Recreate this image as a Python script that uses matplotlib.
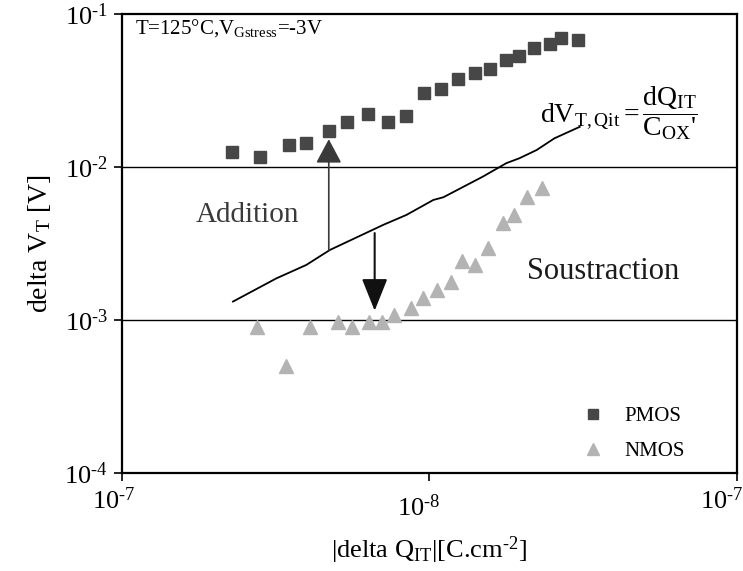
import numpy as np
import matplotlib
matplotlib.use("Agg")
import matplotlib.pyplot as plt

plt.rcParams["font.family"] = ["Liberation Serif", "DejaVu Serif"]
plt.rcParams["mathtext.fontset"] = "custom"
plt.rcParams["mathtext.rm"] = "Liberation Serif"
plt.rcParams["mathtext.it"] = "Liberation Serif:italic"
plt.rcParams["mathtext.bf"] = "Liberation Serif:bold"

# --- data ---
pmos_q = [2.28e-9, 2.81e-9, 3.49e-9, 3.98e-9, 4.71e-9, 5.40e-9, 6.31e-9, 7.33e-9,
          8.38e-9, 9.64e-9, 1.09e-8, 1.24e-8, 1.41e-8, 1.57e-8, 1.78e-8, 1.95e-8,
          2.18e-8, 2.46e-8, 2.67e-8, 3.05e-8]
pmos_vt = [1.26e-2, 1.16e-2, 1.39e-2, 1.43e-2, 1.73e-2, 1.96e-2, 2.21e-2, 1.96e-2,
           2.15e-2, 3.03e-2, 3.24e-2, 3.76e-2, 4.13e-2, 4.39e-2, 4.98e-2, 5.31e-2,
           5.97e-2, 6.37e-2, 6.97e-2, 6.79e-2]

nmos_q = [2.75e-9, 3.41e-9, 4.09e-9, 5.05e-9, 5.62e-9, 6.35e-9, 7.04e-9, 7.70e-9,
          8.71e-9, 9.53e-9, 1.06e-8, 1.18e-8, 1.28e-8, 1.41e-8, 1.55e-8, 1.73e-8,
          1.88e-8, 2.07e-8, 2.33e-8]
nmos_vt = [8.95e-4, 5.0e-4, 8.95e-4, 9.75e-4, 8.95e-4, 9.75e-4, 9.75e-4, 1.08e-3,
           1.19e-3, 1.39e-3, 1.57e-3, 1.78e-3, 2.43e-3, 2.29e-3, 2.94e-3, 4.29e-3,
           4.86e-3, 6.40e-3, 7.26e-3]

# dV = dQit / Cox' curve
calc_q = [2.30e-9, 3.18e-9, 3.98e-9, 4.75e-9, 7.07e-9, 8.42e-9, 1.03e-8, 1.11e-8,
          1.49e-8, 1.78e-8, 1.96e-8, 2.23e-8, 2.55e-8, 3.08e-8]
calc_vt = [1.32e-3, 1.87e-3, 2.29e-3, 2.87e-3, 4.18e-3, 4.86e-3, 6.09e-3, 6.34e-3,
           8.64e-3, 1.06e-2, 1.14e-2, 1.29e-2, 1.54e-2, 1.83e-2]

x_ticks = [1e-9, 1e-8, 1e-7]
x_tick_labels = [r"$10^{\text{-}7}$", r"$10^{\text{-}8}$", r"$10^{\text{-}7}$"]
y_ticks = [1e-4, 1e-3, 1e-2, 1e-1]
y_tick_labels = [r"$10^{\text{-}4}$", r"$10^{\text{-}3}$", r"$10^{\text{-}2}$", r"$10^{\text{-}1}$"]

fig = plt.figure(figsize=(7.43, 5.71), dpi=100)
ax = fig.add_axes([0.1638, 0.1716, 0.8282, 0.8039])
ax.set_xscale("log")
ax.set_yscale("log")
ax.set_xlim(1e-9, 1e-7)
ax.set_ylim(1e-4, 1e-1)

# horizontal grid lines at the inner decades
for yv in y_ticks[1:3]:
    ax.axhline(yv, color="black", lw=1.0, zorder=1)

ax.plot(pmos_q, pmos_vt, ls="none", marker="s", ms=8.5, color="#474747",
        mec="#474747", label="PMOS", zorder=3)
ax.plot(nmos_q, nmos_vt, ls="none", marker="^", ms=10, color="#b3b3b3",
        mec="#b3b3b3", label="NMOS", zorder=3)
ax.plot(calc_q, calc_vt, color="black", lw=1.3, zorder=2)

# arrows
ax.annotate("", xy=(4.71e-9, 1.52e-2), xytext=(4.71e-9, 2.87e-3),
            arrowprops=dict(arrowstyle="-|>,head_length=0.75,head_width=0.4",
                            color="#3a3a3a", lw=1.2, mutation_scale=20,
                            shrinkA=0, shrinkB=0), zorder=4)
ax.annotate("", xy=(6.64e-9, 1.15e-3), xytext=(6.64e-9, 3.7e-3),
            arrowprops=dict(arrowstyle="-|>,head_length=1.0,head_width=0.4",
                            color="#111111", lw=1.5, mutation_scale=20,
                            shrinkA=0, shrinkB=0), zorder=4)

ax.text(0.022, 0.969, r"T=125°C,V$_{\mathrm{Gstress}}$=-3V", transform=ax.transAxes,
        fontsize=15, va="center", ha="left")
ax.text(0.205, 0.562, "Addition", transform=ax.transAxes, fontsize=21,
        color="#3a3a3a", ha="center", va="center")
ax.text(0.782, 0.44, "Soustraction", transform=ax.transAxes, fontsize=22,
        color="#1a1a1a", ha="center", va="center")
ax.text(0.68, 0.784,
        r"$\mathrm{dV_{T,Qit}}=\dfrac{\mathrm{dQ_{IT}}}{\mathrm{C_{OX}}\text{'}}$",
        transform=ax.transAxes, fontsize=20, ha="left", va="center")

ax.set_xticks(x_ticks)
ax.set_xticklabels([])
ax.xaxis.set_minor_locator(matplotlib.ticker.NullLocator())
# tick labels drawn by hand: the middle one sits lower, the right one is pulled in
for xv, lab, dx, dy in zip(x_ticks, x_tick_labels, [-0.013, -0.017, -0.025],
                           [-0.06, -0.075, -0.06]):
    fx = np.log10(xv / 1e-9) / 2.0 + dx
    ax.text(fx, dy, lab, transform=ax.transAxes, fontsize=19,
            ha="center", va="center")
ax.set_yticks(y_ticks)
ax.set_yticklabels(y_tick_labels, fontsize=19)
ax.yaxis.set_minor_locator(matplotlib.ticker.NullLocator())
ax.tick_params(axis="both", direction="out", length=6, width=1.2, pad=4)

for sp in ax.spines.values():
    sp.set_linewidth(1.6)

ax.set_ylabel(r"delta V$_{\mathrm{T}}$ [V]", fontsize=20, labelpad=8)
ax.text(0.5, -0.168, r"|delta Q$_{\mathrm{IT}}$|[C.cm$^{\text{-}2}$]",
        transform=ax.transAxes, fontsize=19, ha="center", va="center")

ax.legend(loc="lower right", bbox_to_anchor=(0.945, -0.015), frameon=False, fontsize=15,
          handletextpad=0.5, labelspacing=0.75, markerscale=0.9)

fig.savefig("out.png", dpi=100)
plt.close(fig)
